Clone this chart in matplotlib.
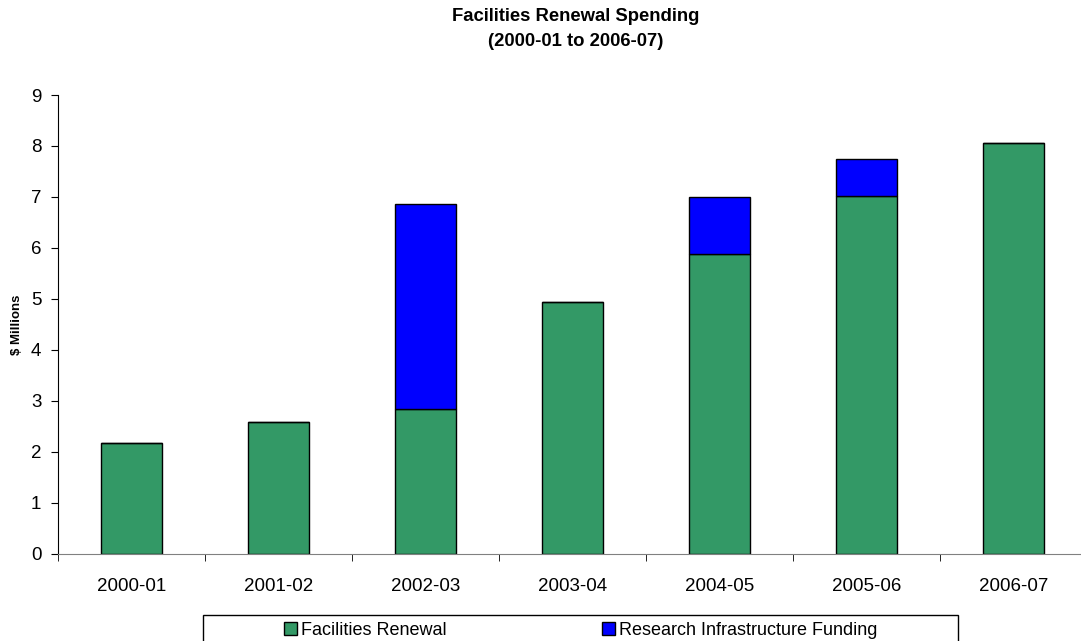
import numpy as np
import matplotlib.pyplot as plt
from matplotlib.patches import Rectangle

plt.rcParams['font.family'] = ['Liberation Sans', 'DejaVu Sans']

# spending per fiscal year, $ millions
years = ['2000-01', '2001-02', '2002-03', '2003-04', '2004-05', '2005-06', '2006-07']
facilities_renewal = [2.18, 2.58, 2.84, 4.94, 5.89, 7.02, 8.05]
research_infra = [0.0, 0.0, 4.03, 0.0, 1.11, 0.72, 0.0]

green = '#339966'
blue = '#0000FF'

W, H = 1081, 641
fig = plt.figure(figsize=(W / 100, H / 100), dpi=100)
ax = fig.add_axes([58 / W, (H - 553.7) / H, 1029 / W, 458.7 / H])

x = np.arange(len(years))
ax.bar(x, facilities_renewal, width=0.41, color=green, edgecolor='black',
       linewidth=1, label='Facilities Renewal')
ax.bar(x, research_infra, width=0.41, bottom=facilities_renewal, color=blue,
       edgecolor='black', linewidth=1, label='Research Infrastructure Funding')

ax.set_xlim(-0.5, len(years) - 0.5)
ax.set_ylim(0, 9)
ax.set_yticks(range(10))
ax.set_xticks(x)
ax.set_xticklabels(years)
ax.set_xticks(np.arange(-0.5, len(years)), minor=True)
ax.tick_params(axis='x', which='major', length=0, pad=17.5, labelsize=13.5)
ax.tick_params(axis='x', which='minor', length=5, direction='out', color='black')
ax.tick_params(axis='y', length=5, direction='out', pad=7, labelsize=13.5)

for s in ['top', 'right']:
    ax.spines[s].set_visible(False)
ax.spines['bottom'].set_color('#808080')
ax.spines['left'].set_color('black')

ax.set_ylabel('$ Millions', fontsize=9.5, fontweight='bold')
ax.yaxis.set_label_coords(-35 / 1029, 0.5)

fig.text(576 / W, 1 - 29 / H, 'Facilities Renewal Spending\n(2000-01 to 2006-07)',
         ha='center', va='center', fontsize=13.3, fontweight='bold', linespacing=1.6)

# legend box along the bottom edge
fig.patches.append(Rectangle((203 / W, -0.05), (958 - 203) / W, 0.05 + (H - 615) / H,
                             transform=fig.transFigure, facecolor='white',
                             edgecolor='black', linewidth=1))
fig.legend(loc='center', bbox_to_anchor=(581 / W, 1 - 630.5 / H), ncol=2,
           frameon=False, fontsize=13, handlelength=0.7, handleheight=0.7,
           handletextpad=0.25, columnspacing=8.6, borderpad=0)

fig.savefig('out.png', dpi=100)
